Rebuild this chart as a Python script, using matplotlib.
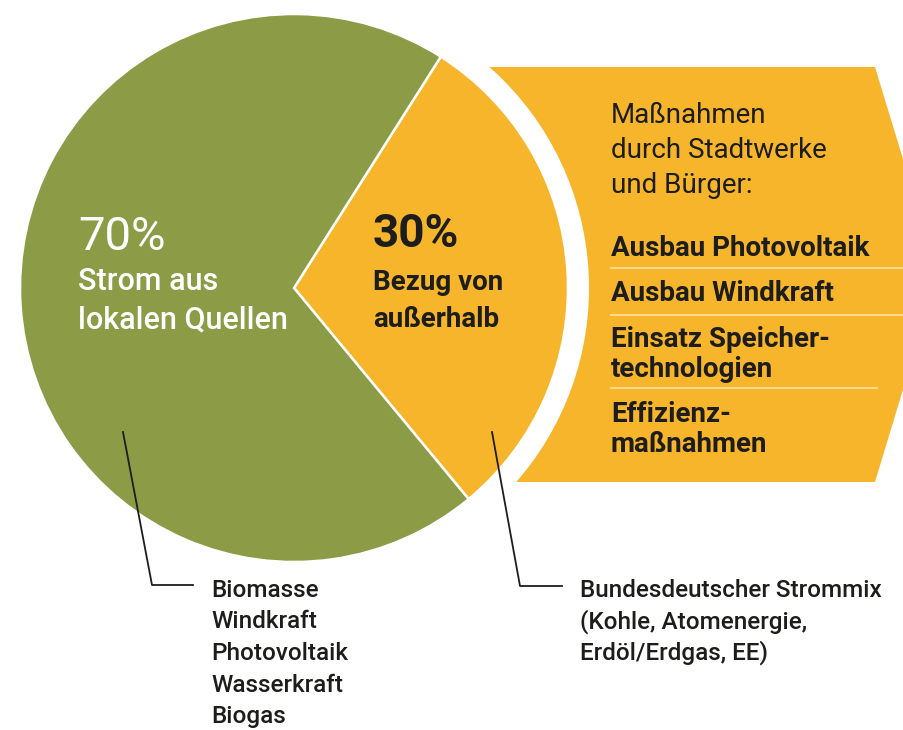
import numpy as np
import matplotlib.pyplot as plt
from matplotlib.patches import Polygon, Circle

# shares of the electricity supply
shares = [30, 70]
share_labels = ["30%", "70%"]
share_texts = [["Bezug von", "außerhalb"], ["Strom aus", "lokalen Quellen"]]
colors = ["#f7b52b", "#8c9b45"]

# callout lists
local_sources = ["Biomasse", "Windkraft", "Photovoltaik", "Wasserkraft", "Biogas"]
external_mix = ["Bundesdeutscher Strommix", "(Kohle, Atomenergie,", "Erdöl/Erdgas, EE)"]

# measures panel
panel_title = ["Maßnahmen", "durch Stadtwerke", "und Bürger:"]
measures = [["Ausbau Photovoltaik"], ["Ausbau Windkraft"],
            ["Einsatz Speicher-", "technologien"], ["Effizienz-", "maßnahmen"]]

W, H = 904, 730
dark = "#1d1d1b"
plt.rcParams['font.family'] = ['Roboto', 'DejaVu Sans']


def Y(y):
    # image pixel row -> axes y (y up)
    return H - y


fig = plt.figure(figsize=(W / 100, H / 100), dpi=100)
ax = fig.add_axes([0, 0, 1, 1])

cx, cy, r = 294, Y(288), 274

# orange arrow panel behind the pie
panel = Polygon([(400, Y(67)), (875, Y(67)), (938, Y(274)), (875, Y(482)), (400, Y(482))],
                closed=True, facecolor=colors[0], edgecolor="none", zorder=1)
ax.add_patch(panel)
# white ring separating pie and panel
ax.add_patch(Circle((cx, cy), 295, facecolor="white", edgecolor="none", zorder=2))

# pie, orange wedge centred slightly above horizontal
mid = 3.6
start = mid - shares[0] / 100 * 360 / 2
wedges, _ = ax.pie(shares, colors=colors, startangle=start, counterclock=True,
                   center=(cx, cy), radius=r, frame=True,
                   wedgeprops=dict(edgecolor="white", linewidth=1.8))
for w in wedges:
    w.set_zorder(3)

# big labels inside the wedges
ax.text(78, Y(250), share_labels[1], color="white", fontsize=34, zorder=5)
ax.text(78, Y(290), share_texts[1][0], color="white", fontsize=22, fontweight="medium", zorder=5)
ax.text(78, Y(328), share_texts[1][1], color="white", fontsize=22, fontweight="medium", zorder=5)

ax.text(373, Y(247), share_labels[0], color=dark, fontsize=33, fontweight="bold", zorder=5)
ax.text(373, Y(290), share_texts[0][0], color=dark, fontsize=20, fontweight="bold", zorder=5)
ax.text(373, Y(327), share_texts[0][1], color=dark, fontsize=20, fontweight="bold", zorder=5)

# measures panel text
for i, line in enumerate(panel_title):
    ax.text(611, Y(123 + 35 * i), line, color=dark, fontsize=20, zorder=5)

measure_base = [[256], [301], [347, 377], [422, 452]]
for item, bases in zip(measures, measure_base):
    for line, b in zip(item, bases):
        ax.text(611, Y(b), line, color=dark, fontsize=20, fontweight="bold", zorder=5)

# thin separators between measures
for y, x1 in [(268, 904), (315, 904), (388, 877)]:
    ax.plot([611, x1], [Y(y), Y(y)], color="#fbe3a6", lw=1.2, zorder=4)

# callouts
ax.plot([123, 152, 193], [Y(432), Y(585), Y(585)], color=dark, lw=1.3, zorder=6)
ax.plot([492, 520, 562], [Y(432), Y(586), Y(586)], color=dark, lw=1.3, zorder=6)

for i, line in enumerate(local_sources):
    ax.text(211, Y(597 + 31.5 * i), line, color=dark, fontsize=17.5,
            fontweight="medium", zorder=5)
for i, line in enumerate(external_mix):
    ax.text(580, Y(597 + 31.5 * i), line, color=dark, fontsize=17.5,
            fontweight="medium", zorder=5)

ax.set_xlim(0, W)
ax.set_ylim(0, H)
ax.set_aspect("equal")
ax.axis("off")

fig.savefig("out.png", dpi=100, facecolor="white")
